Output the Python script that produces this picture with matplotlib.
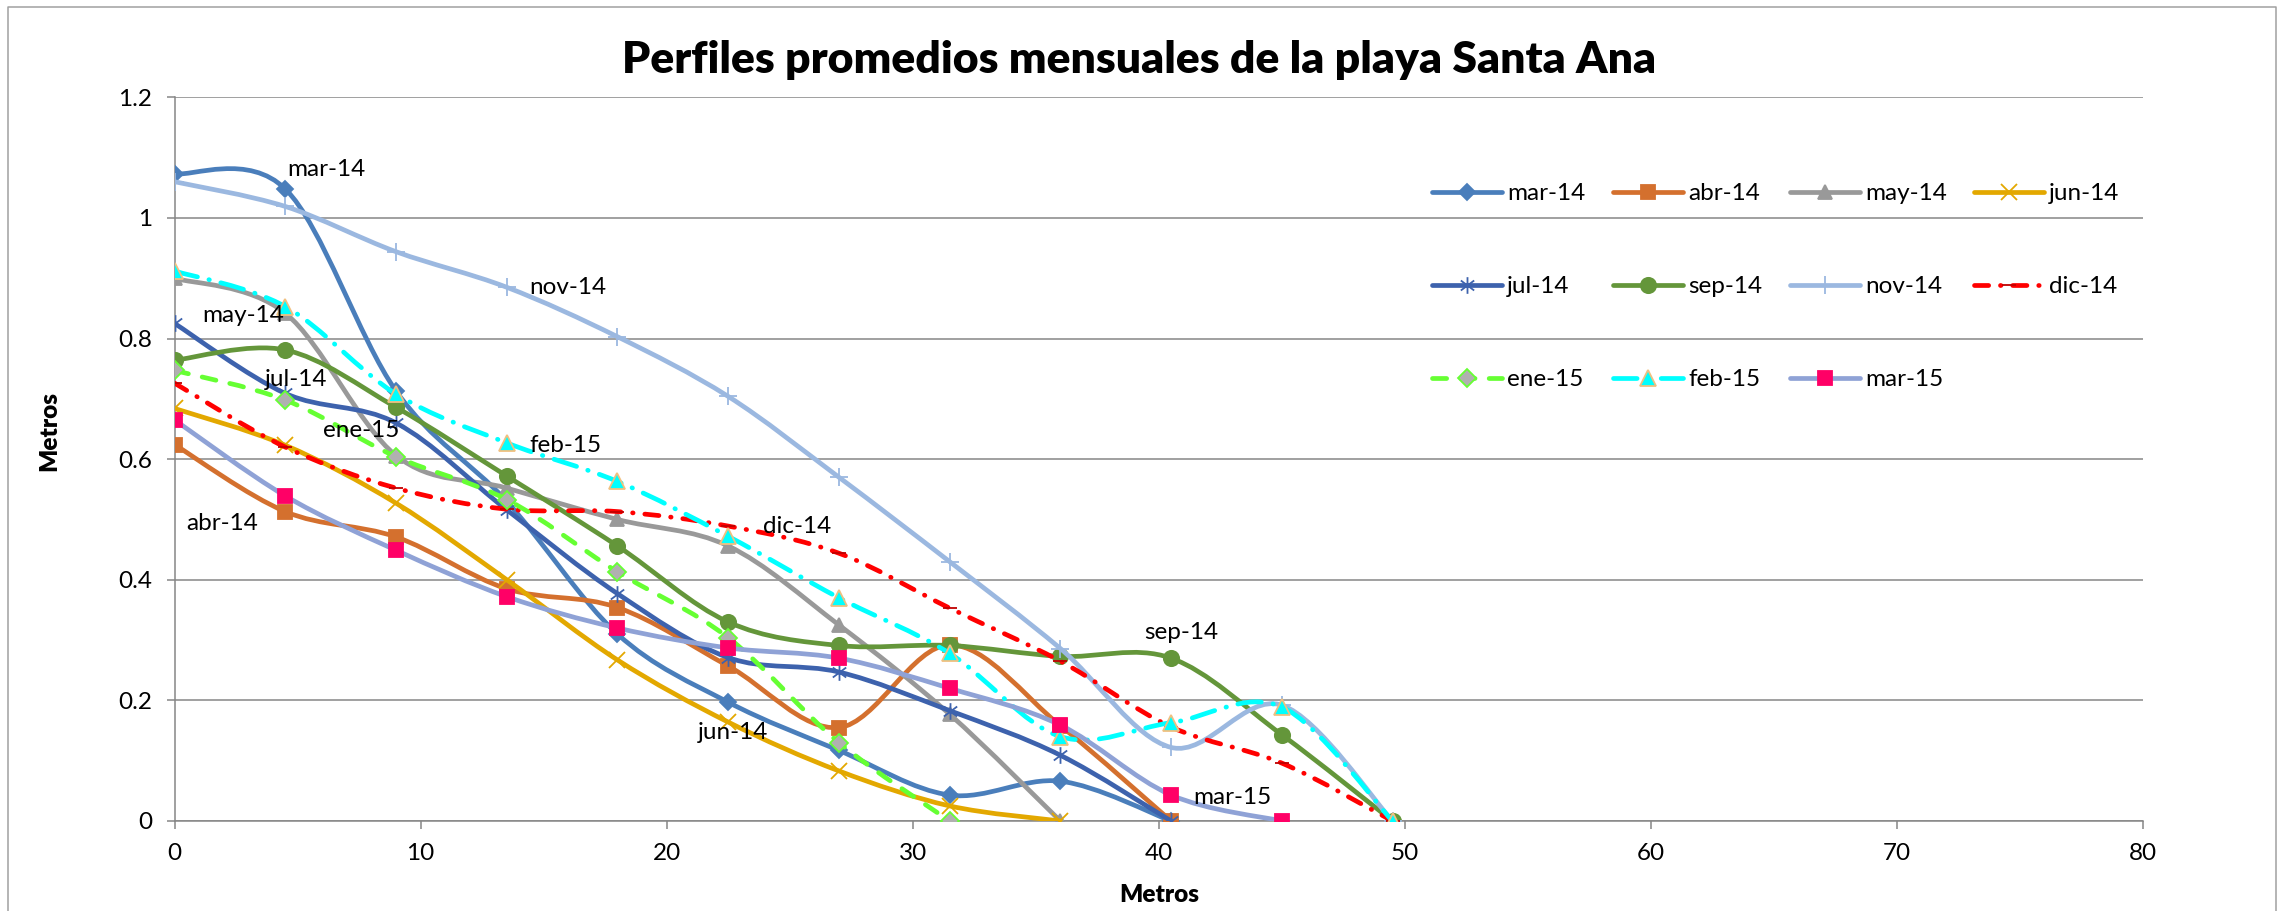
import numpy as np
import matplotlib
matplotlib.use("Agg")
import matplotlib.pyplot as plt
from matplotlib.path import Path
from matplotlib.patches import PathPatch
from matplotlib.lines import Line2D

# distancias a lo largo del perfil (m)
distancia = [0, 4.5, 9, 13.5, 18, 22.5, 27, 31.5, 36, 40.5, 45, 49.5]

# cotas promedio mensuales (m)
mar_14 = [1.073, 1.048, 0.713, 0.530, 0.310, 0.197, 0.117, 0.043, 0.066, 0.0]
abr_14 = [0.624, 0.513, 0.471, 0.385, 0.354, 0.257, 0.155, 0.292, 0.158, 0.0]
may_14 = [0.900, 0.842, 0.606, 0.552, 0.500, 0.456, 0.325, 0.177, 0.0]
jun_14 = [0.684, 0.623, 0.527, 0.400, 0.267, 0.164, 0.083, 0.025, 0.0]
jul_14 = [0.825, 0.709, 0.660, 0.516, 0.377, 0.271, 0.247, 0.183, 0.109, 0.0]
sep_14 = [0.764, 0.781, 0.686, 0.572, 0.456, 0.330, 0.291, 0.291, 0.273, 0.270, 0.143, 0.0]
nov_14 = [1.060, 1.019, 0.944, 0.885, 0.803, 0.704, 0.570, 0.430, 0.286, 0.122, 0.192, 0.0]
dic_14 = [0.726, 0.620, 0.552, 0.517, 0.513, 0.489, 0.444, 0.353, 0.265, 0.156, 0.096, 0.0]
ene_15 = [0.747, 0.698, 0.604, 0.533, 0.413, 0.304, 0.130, 0.0]
feb_15 = [0.912, 0.853, 0.708, 0.627, 0.563, 0.472, 0.370, 0.278, 0.140, 0.163, 0.189, 0.0]
mar_15 = [0.665, 0.539, 0.449, 0.372, 0.320, 0.287, 0.270, 0.220, 0.159, 0.043, 0.0]

nombres = ["mar-14", "abr-14", "may-14", "jun-14", "jul-14", "sep-14",
           "nov-14", "dic-14", "ene-15", "feb-15", "mar-15"]
series = [mar_14, abr_14, may_14, jun_14, jul_14, sep_14,
          nov_14, dic_14, ene_15, feb_15, mar_15]

asterisco = Path([(0, -1), (0, 1), (-0.8, -0.6), (0.8, 0.6), (-0.8, 0.6), (0.8, -0.6)],
                 [Path.MOVETO, Path.LINETO] * 3)

# color linea, estilo, marcador, tam, relleno, borde
estilos = {
    "mar-14": ("#4A7EBB", "-", "D", 8, "#4A7EBB", "#4A7EBB"),
    "abr-14": ("#D4702E", "-", "s", 10, "#D4702E", "#D4702E"),
    "may-14": ("#999999", "-", "^", 10, "#999999", "#999999"),
    "jun-14": ("#E3A800", "-", "x", 11, "none", "#E3A800"),
    "jul-14": ("#3D62AD", "-", asterisco, 12, "none", "#3D62AD"),
    "sep-14": ("#64963A", "-", "o", 11, "#64963A", "#64963A"),
    "nov-14": ("#9BB8E0", "-", "+", 13, "none", "#9BB8E0"),
    "dic-14": ("#FF0000", (0, (3, 2.5, 0.1, 2.5)), "_", 10, "#C00000", "#C00000"),
    "ene-15": ("#66FF33", (0, (3, 3)), "D", 9, "#B0B0B0", "#66FF33"),
    "feb-15": ("#00FFFF", (0, (5, 2.5, 0.1, 2.5)), "^", 11, "#00FFFF", "#F0C080"),
    "mar-15": ("#8FA2D6", "-", "s", 10, "#FF0066", "#FF0066"),
}

# etiquetas escritas junto a cada curva
etiquetas = {
    "mar-14": (6.15, 1.08), "may-14": (2.8, 0.839), "jul-14": (4.95, 0.732),
    "ene-15": (7.6, 0.648), "feb-15": (15.9, 0.623), "nov-14": (16.0, 0.884),
    "abr-14": (1.95, 0.494), "dic-14": (25.3, 0.488), "jun-14": (22.7, 0.146),
    "sep-14": (40.9, 0.312), "mar-15": (43.0, 0.039),
}

plt.rcParams["font.family"] = ["Lato", "DejaVu Sans"]
GRIS = "#868686"
LW = 3.4
FS = 17.5


def smooth_path(xs, ys):
    """Bezier tipo Catmull-Rom, como las lineas suavizadas de Excel."""
    pts = np.column_stack([xs, ys]).astype(float)
    n = len(pts)
    verts = [pts[0]]
    codes = [Path.MOVETO]
    for i in range(n - 1):
        p0 = pts[max(i - 1, 0)]
        p1 = pts[i]
        p2 = pts[i + 1]
        p3 = pts[min(i + 2, n - 1)]
        verts += [p1 + (p2 - p0) / 6.0, p2 - (p3 - p1) / 6.0, p2]
        codes += [Path.CURVE4] * 3
    return Path(verts, codes)


fig = plt.figure(figsize=(22.82, 9.11), dpi=100)
ax = fig.add_axes([0.0765, 0.0988, 0.8626, 0.7944])

handles = {}
for k, (nombre, ys) in enumerate(zip(nombres, series)):
    color, ls, mk, ms, mfc, mec = estilos[nombre]
    xs = distancia[:len(ys)]
    patch = PathPatch(smooth_path(xs, ys), fill=False, edgecolor=color, lw=LW,
                      linestyle=ls, capstyle="round", joinstyle="round",
                      zorder=3 + 2 * k)
    ax.add_patch(patch)
    ax.plot(xs, ys, ls="none", marker=mk, ms=ms, mfc=mfc, mec=mec, mew=1.3,
            zorder=4 + 2 * k)
    handles[nombre] = Line2D([], [], color=color, lw=LW, ls=ls, marker=mk, ms=ms,
                             mfc=mfc, mec=mec, mew=1.3, dash_capstyle="round",
                             solid_capstyle="round")

for nombre, (tx, ty) in etiquetas.items():
    ax.text(tx, ty, nombre, ha="center", va="center", fontsize=FS, zorder=40)

ax.set_xlim(0, 80)
ax.set_ylim(0, 1.2)
ax.set_xticks(np.arange(0, 81, 10))
ax.set_yticks([0, 0.2, 0.4, 0.6, 0.8, 1.0, 1.2])
ax.set_yticklabels(["0", "0.2", "0.4", "0.6", "0.8", "1", "1.2"])
ax.tick_params(direction="out", length=6, width=1.1, color=GRIS,
               labelsize=FS, pad=10)
ax.grid(axis="y", color=GRIS, lw=1.1)
ax.set_axisbelow(True)
for lado in ["top", "right"]:
    ax.spines[lado].set_visible(False)
for lado in ["left", "bottom"]:
    ax.spines[lado].set_color(GRIS)
    ax.spines[lado].set_linewidth(1.1)

fig.text(0.499, 0.934, "Perfiles promedios mensuales de la playa Santa Ana",
         ha="center", va="center", fontsize=32, fontweight="heavy")
fig.text(0.508, 0.018, "Metros", ha="center", va="center", fontsize=17.5,
         fontweight="heavy")
fig.text(0.0215, 0.527, "Metros", ha="center", va="center", rotation=90,
         fontsize=17.5, fontweight="heavy")

orden = ["mar-14", "jul-14", "ene-15", "abr-14", "sep-14", "feb-15",
         "may-14", "nov-14", "mar-15", "jun-14", "dic-14"]
ax.legend([handles[n] for n in orden], orden, ncol=4, loc="upper left",
          bbox_to_anchor=(1432 / 2282, 1 - 183 / 911),
          bbox_transform=fig.transFigure, frameon=False, fontsize=FS,
          numpoints=1, handlelength=2.9, handletextpad=0.2,
          columnspacing=1.12, labelspacing=2.97, borderpad=0, borderaxespad=0)

# borde del grafico
fig.add_artist(Line2D([8 / 2282, 8 / 2282, 2276 / 2282, 2276 / 2282],
                      [0, 1 - 7 / 911, 1 - 7 / 911, 0],
                      transform=fig.transFigure, color="#A0A0A0", lw=1.1))

fig.savefig("out.png", dpi=100)
